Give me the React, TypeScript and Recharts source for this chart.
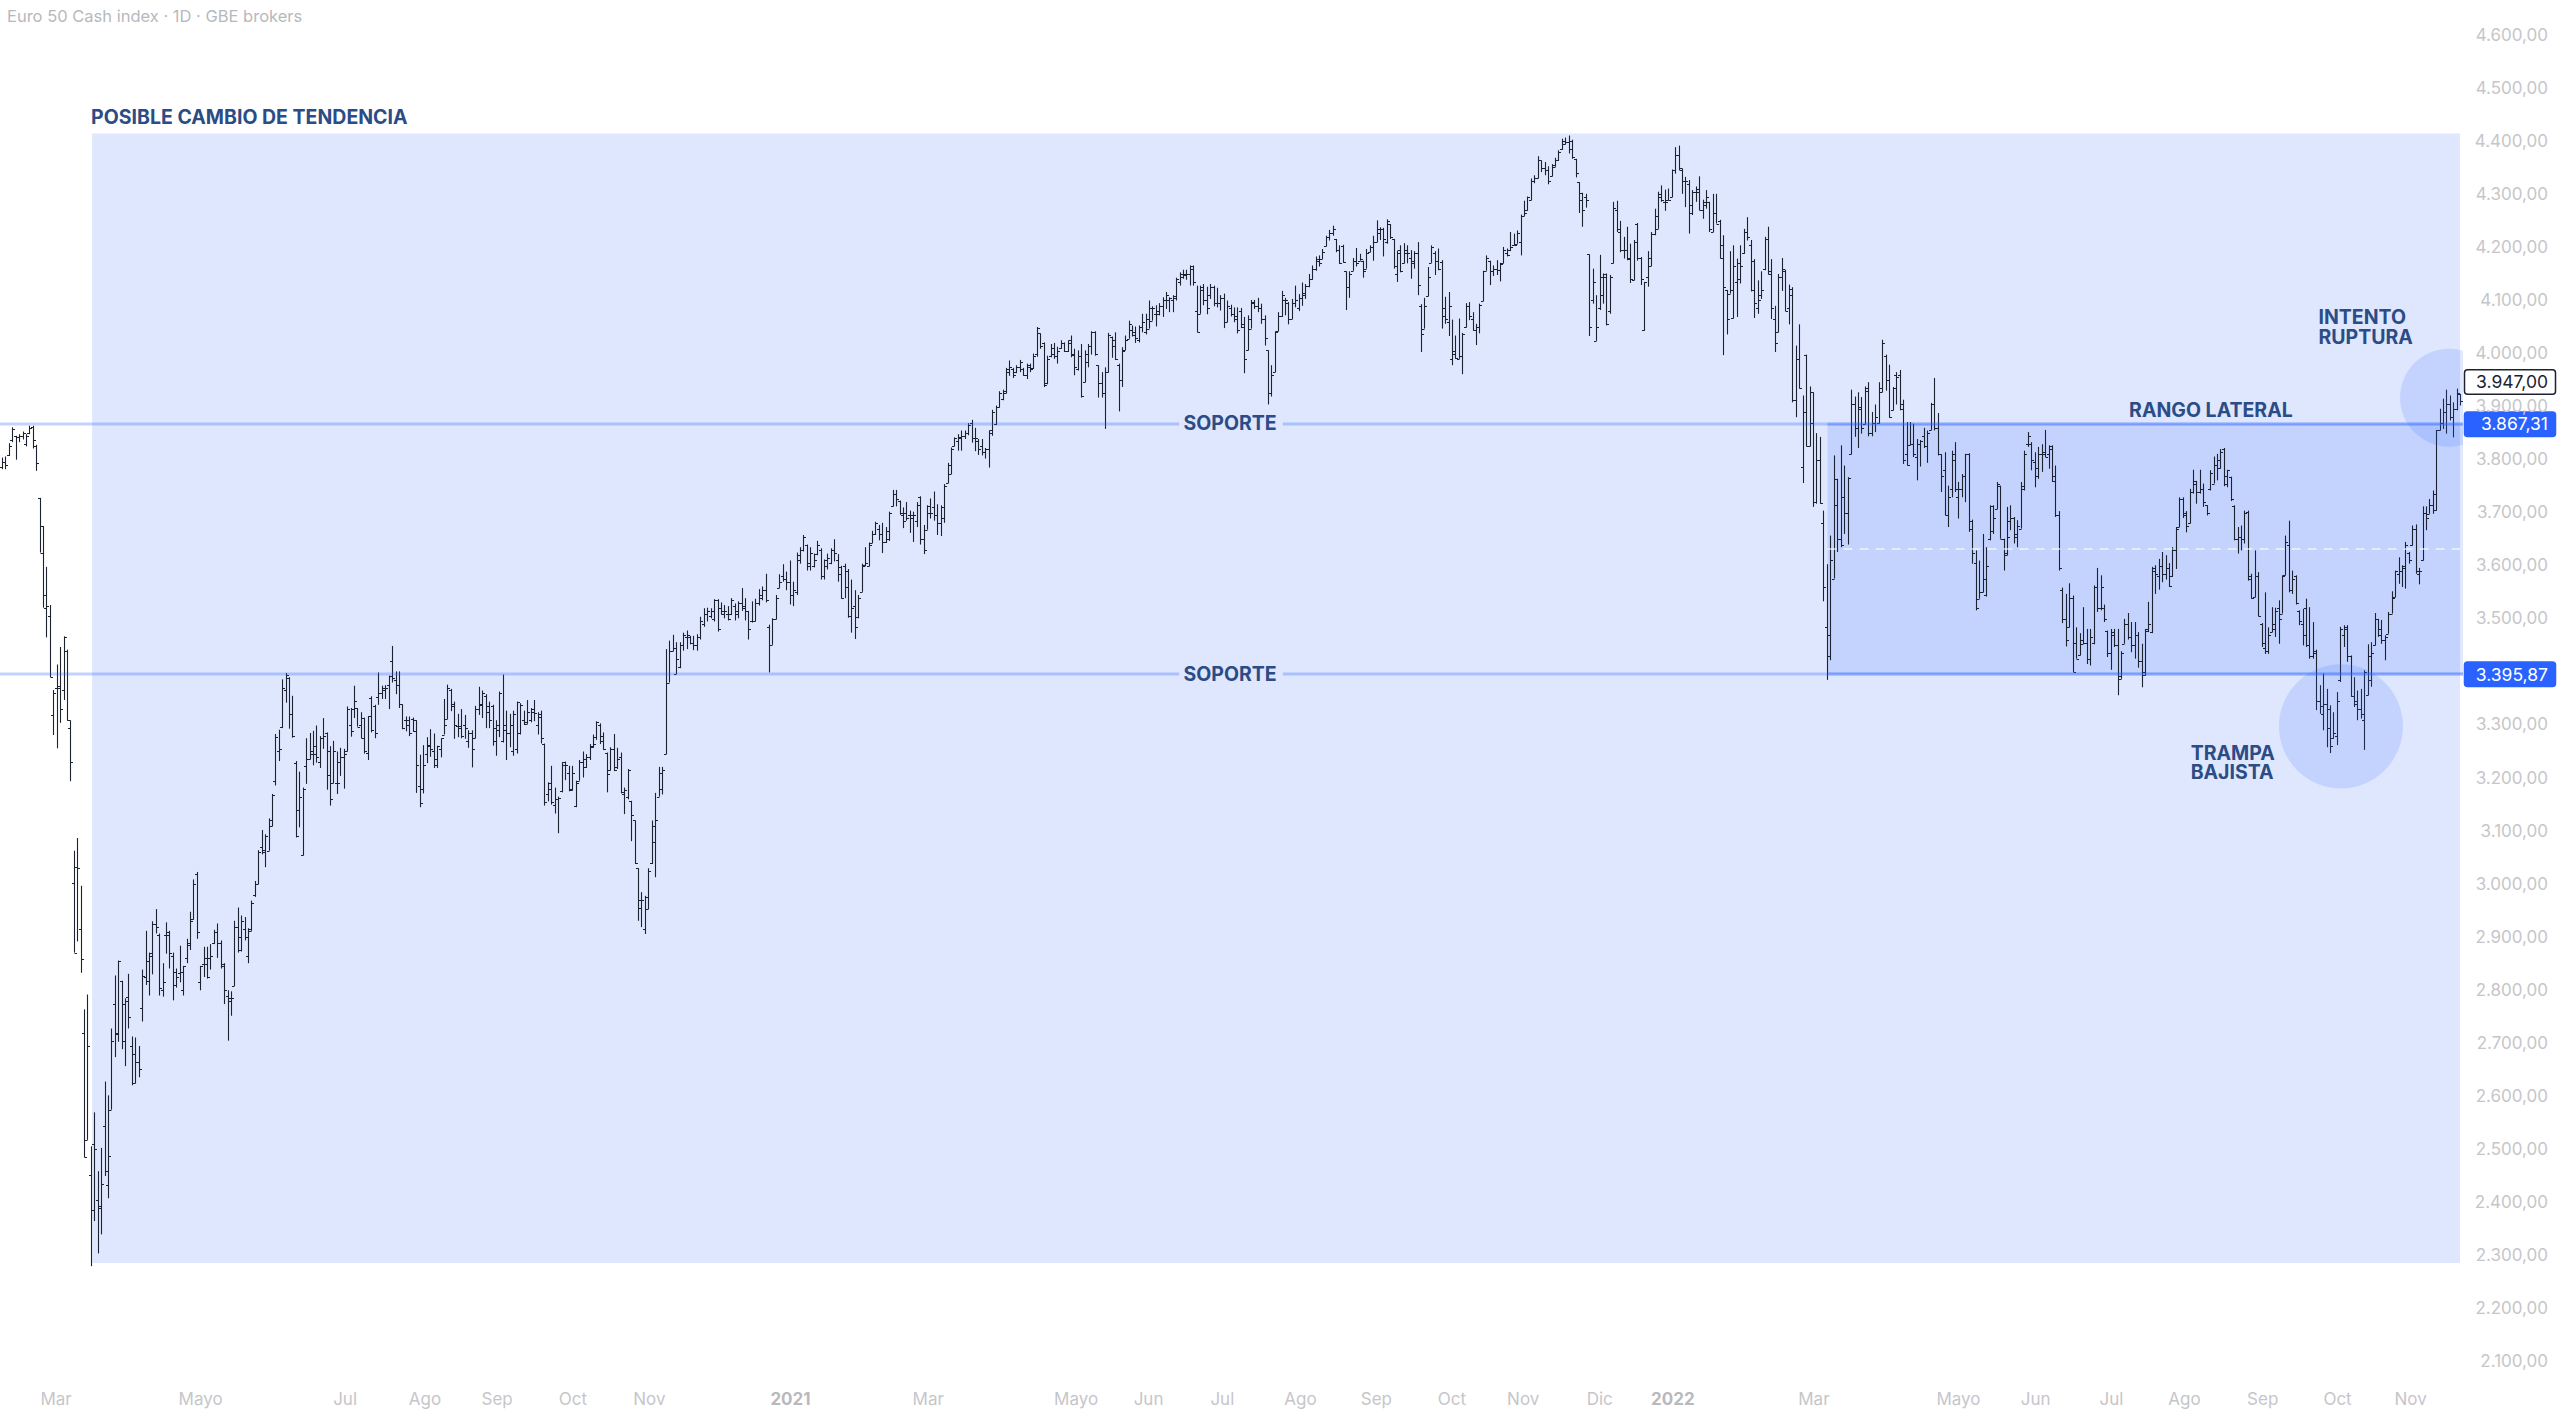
import React from "react";
import {
  ComposedChart,
  Bar,
  XAxis,
  YAxis,
  ReferenceArea,
  ReferenceLine,
  ReferenceDot,
} from "recharts";

// daily bars, rows are [open, high, low, close]
const crash2020 = [
  [3786,3804,3782,3795],[3795,3806,3782,3790],[3808,3831,3807,3825],[3838,3861,3833,3858],[3845,3845,3800,3842],
  [3842,3848,3833,3844],[3844,3853,3838,3851],[3830,3848,3825,3845],[3850,3864,3848,3860],[3862,3864,3821,3838],
  [3825,3828,3779,3793],[3728,3728,3625,3625],[3675,3675,3521,3545],[3521,3598,3465,3525],[3505,3526,3390,3390],
  [3318,3366,3281,3360],[3370,3414,3256,3370],[3373,3447,3304,3330],[3365,3467,3347,3465],[3440,3442,3308,3310],
  [3295,3309,3194,3230],[3002,3063,2871,2871],[3032,3087,2892,3030],[2915,2997,2833,2858],[2720,2764,2485,2485],
  [2518,2792,2518,2695],[2451,2506,2280,2386],[2510,2570,2365,2500],[2405,2459,2304,2390],[2394,2503,2340,2435],
  [2545,2628,2450,2460],[2433,2602,2408,2488],[2575,2728,2575,2705],[2775,2828,2674,2720],[2718,2856,2703,2855],
  [2818,2818,2689,2705],[2775,2785,2657,2780],[2788,2831,2728,2750],[2695,2713,2621,2625],[2680,2711,2624,2665],
  [2665,2695,2636,2652],[2767,2839,2741,2826],[2825,2912,2810,2818],[2855,2871,2790,2865],[2870,2930,2830,2925],
  [2925,2953,2907,2920],[2905,2907,2790,2805],[2800,2851,2788,2815],[2905,2928,2869,2905],[2910,2912,2841,2870],
  [2865,2871,2781,2810],[2835,2841,2805,2825],[2832,2884,2815,2835],[2800,2846,2790,2845],[2860,2897,2851,2890],
  [2885,2948,2876,2930],[2935,3009,2933,3000],[3020,3023,2897,2910],[2815,2846,2800,2845],[2850,2882,2825,2850],
  [2860,2882,2822,2825],[2860,2887,2839,2865],[2890,2914,2887,2910],[2910,2926,2861,2890],[2890,2894,2841,2845],
  [2850,2851,2774,2800],[2790,2800,2705,2785],[2780,2798,2752,2785],[2808,2931,2808,2920],[2920,2956,2871,2875],
  [2900,2941,2873,2930],[2915,2938,2894,2900],[2865,2917,2851,2915],[2912,2969,2912,2965],[2980,3006,2976,3000],
  [3000,3064,3000,3060],[3070,3102,3056,3060],[3065,3094,3032,3090],[3063,3124,3063,3120],[3110,3170,3109,3168],
  [3195,3283,3186,3278],[3250,3291,3232,3255],[3296,3386,3294,3370],[3365,3398,3342,3395],[3388,3390,3293,3320],
  [3320,3355,3276,3280],[3228,3232,3088,3090],[3140,3212,3107,3165],[3055,3182,3054,3180],[3222,3275,3189,3235],
  [3235,3285,3235,3245],[3250,3289,3224,3245],[3260,3299,3229,3240],[3230,3279,3219,3275],[3275,3313,3255,3280],
  [3285,3286,3178,3205],[3250,3260,3148,3160],[3190,3270,3190,3250],[3190,3250,3170,3190],[3230,3257,3204,3240],
  [3240,3255,3180,3245],[3250,3335,3250,3330],
];

const range2020 = [
  [3300,3332,3278,3288],[3330,3374,3313,3345],[3332,3332,3297,3297],[3300,3324,3275,3275],[3314,3314,3246,3250],
  [3248,3317,3234,3317],[3350,3354,3286,3290],[3335,3338,3275,3285],[3352,3399,3338,3360],[3360,3374,3349,3365],
  [3370,3375,3349,3370],[3375,3393,3330,3392],[3420,3449,3380,3388],[3385,3401,3358,3375],[3375,3401,3332,3340],
  [3339,3339,3292,3295],[3310,3316,3288,3310],[3300,3316,3279,3285],[3312,3314,3287,3288],[3309,3309,3172,3225],
  [3185,3244,3145,3152],[3180,3262,3171,3225],[3245,3277,3228,3262],[3260,3292,3240,3255],[3250,3284,3219,3225],
  [3235,3261,3219,3260],[3255,3275,3239,3275],[3282,3349,3282,3300],[3311,3376,3311,3370],[3365,3368,3326,3335],
  [3340,3344,3274,3300],[3298,3321,3277,3295],[3298,3330,3275,3280],[3300,3319,3274,3295],[3270,3290,3257,3285],
  [3285,3290,3220,3255],[3275,3336,3275,3330],[3330,3372,3319,3338],[3340,3365,3313,3360],[3355,3358,3294,3325],
  [3335,3344,3294,3310],[3335,3338,3261,3270],[3295,3309,3242,3290],[3300,3363,3277,3360],[3270,3395,3267,3300],
  [3290,3327,3234,3285],[3285,3321,3258,3300],[3250,3327,3242,3320],[3255,3344,3246,3344],[3285,3341,3282,3338],
  [3310,3327,3300,3305],[3302,3347,3302,3325],[3310,3332,3305,3330],[3325,3347,3307,3322],[3300,3324,3282,3315],
  [3320,3327,3265,3275],[3265,3265,3148,3155],[3170,3192,3156,3180],[3190,3223,3150,3155],[3150,3182,3133,3160],
  [3160,3165,3096,3163],[3175,3230,3173,3225],[3230,3231,3196,3225],[3210,3223,3175,3178],[3180,3223,3176,3210],
  [3148,3195,3145,3190],[3195,3234,3195,3230],[3230,3250,3201,3235],[3220,3245,3219,3240],[3240,3264,3234,3260],
  [3258,3282,3257,3265],[3278,3307,3272,3305],[3300,3303,3264,3270],[3280,3286,3253,3255],[3248,3248,3173,3208],
  [3215,3258,3214,3255],[3255,3283,3213,3215],[3220,3257,3217,3235],[3240,3248,3171,3173],[3170,3182,3132,3178],
  [3165,3217,3160,3215],[3157,3157,3081,3130],[3120,3120,3038,3040],[3030,3030,2931,2955],[2970,2985,2919,2970],
  [2915,2978,2906,2975],[2953,3030,2953,3025],[3040,3120,3038,3110],[3080,3172,3013,3120],[3165,3221,3165,3210],
  [3180,3221,3169,3215],[3245,3443,3245,3380],[3380,3459,3380,3440],[3440,3470,3439,3445],[3396,3456,3396,3425],
  [3410,3456,3407,3450],[3450,3474,3440,3470],[3465,3478,3443,3470],[3465,3468,3452,3455],[3455,3468,3441,3450],
  [3450,3471,3440,3465],
];

const rally2021a = [
  [3465,3504,3461,3495],[3490,3520,3485,3510],[3510,3521,3495,3515],[3505,3520,3501,3515],[3500,3537,3495,3535],
  [3535,3537,3476,3480],[3520,3531,3508,3510],[3515,3526,3501,3515],[3510,3524,3497,3500],[3510,3539,3507,3535],
  [3525,3529,3497,3515],[3510,3533,3501,3530],[3530,3558,3515,3520],[3525,3539,3497,3515],[3515,3515,3461,3480],
  [3495,3533,3493,3495],[3495,3538,3495,3530],[3530,3556,3525,3545],[3540,3561,3535,3555],[3555,3585,3531,3535],
  [3485,3489,3399,3450],[3451,3501,3451,3500],[3500,3545,3499,3540],[3558,3584,3558,3570],[3580,3603,3570,3575],
  [3575,3589,3554,3570],[3570,3610,3527,3545],[3545,3570,3524,3555],[3550,3625,3545,3620],[3610,3635,3604,3630],
  [3630,3658,3627,3655],[3640,3640,3591,3605],[3600,3635,3591,3625],[3600,3623,3597,3610],[3622,3647,3620,3640],
  [3630,3633,3574,3580],[3580,3612,3574,3610],[3600,3623,3593,3615],[3605,3633,3603,3630],[3630,3650,3608,3625],
  [3610,3622,3570,3585],[3598,3600,3538,3540],[3600,3604,3539,3560],[3590,3594,3502,3505],[3505,3574,3474,3520],
  [3525,3554,3462,3485],[3503,3545,3501,3540],[3551,3604,3551,3600],[3602,3635,3599,3605],[3600,3644,3599,3640],
  [3643,3666,3643,3660],[3660,3683,3658,3680],[3670,3677,3648,3660],[3660,3681,3624,3645],[3645,3673,3643,3665],
  [3650,3702,3647,3700],[3712,3743,3712,3735],[3735,3743,3712,3725],[3723,3723,3696,3700],[3695,3710,3671,3685],
  [3700,3720,3685,3690],[3695,3704,3662,3695],[3690,3702,3645,3695],[3685,3720,3673,3715],[3730,3731,3640,3650],
  [3650,3677,3622,3630],[3668,3714,3668,3712],[3700,3727,3689,3700],[3710,3740,3685,3695],[3695,3716,3658,3680],
  [3680,3714,3656,3710],[3690,3754,3681,3750],[3756,3794,3756,3790],[3773,3823,3773,3820],[3825,3842,3825,3840],
  [3835,3848,3817,3842],[3840,3855,3817,3845],[3845,3855,3839,3850],[3850,3869,3846,3865],[3870,3875,3832,3840],
  [3840,3860,3816,3840],[3835,3839,3809,3820],[3825,3839,3808,3815],[3815,3822,3802,3820],[3820,3855,3785,3855],
  [3850,3894,3845,3890],[3868,3902,3865,3900],[3900,3929,3898,3925],[3915,3932,3912,3930],[3925,3973,3925,3970],
  [3965,3987,3958,3975],[3970,3973,3954,3960],[3965,3978,3963,3975],[3975,3988,3965,3985],[3970,3973,3958,3960],
  [3960,3981,3952,3978],[3975,3981,3965,3970],[3972,4000,3971,3995],[4000,4050,3994,4048],[4038,4038,4009,4015],
  [4020,4021,3937,3940],[3945,3996,3942,3990],
];

const rally2021b = [
  [3995,4018,3993,4010],[4000,4020,3990,3995],[3995,4013,3981,4005],[4010,4025,4009,4020],[4020,4021,4003,4005],
  [4005,4025,4003,4020],[4025,4034,3993,4000],[3997,4009,3959,3975],[3970,4006,3968,3995],[3995,4018,3917,3920],
  [3946,4006,3946,4000],[3985,4018,3974,4015],[4015,4042,3998,4040],[4040,4042,3996,4000],[3978,3978,3917,3945],
  [3945,3965,3917,3925],[3925,3974,3858,3965],[3965,4039,3964,4035],[4032,4032,3992,4025],[4015,4040,3988,3990],
  [3978,3981,3891,3950],[3950,4012,3937,4005],[4006,4034,4006,4025],[4028,4062,4028,4055],[4045,4053,4032,4035],
  [4040,4051,4020,4030],[4025,4053,4021,4050],[4050,4075,4040,4060],[4040,4075,4036,4065],[4047,4100,4047,4085],
  [4062,4089,4062,4085],[4075,4091,4051,4080],[4075,4095,4072,4090],[4090,4106,4069,4100],[4100,4116,4084,4110],
  [4100,4106,4078,4105],[4100,4110,4078,4108],[4105,4143,4100,4140],[4135,4153,4128,4150],[4145,4158,4141,4150],
  [4148,4158,4139,4150],[4150,4166,4128,4160],[4165,4166,4128,4135],[4080,4128,4040,4040],[4075,4128,4075,4120],
  [4125,4131,4091,4100],[4100,4126,4074,4085],[4110,4131,4103,4125],[4125,4128,4089,4095],[4095,4124,4087,4095],
  [4095,4110,4081,4105],[4105,4113,4048,4060],[4060,4100,4059,4090],[4085,4092,4070,4075],[4075,4087,4059,4065],
  [4070,4087,4038,4045],[4080,4086,4048,4050],[4055,4069,3963,3990],[4006,4072,4006,4065],[4047,4101,4047,4098],
  [4095,4101,4084,4090],[4090,4105,4078,4085],[4085,4094,4056,4065],[4065,4072,4015,4030],[4006,4006,3904,3925],
  [3925,3978,3919,3960],[3965,4042,3965,4040],[4042,4078,4042,4070],[4070,4118,4069,4110],[4100,4105,4072,4100],
  [4095,4097,4055,4065],[4065,4103,4065,4095],[4095,4128,4087,4100],[4085,4112,4080,4105],[4105,4134,4090,4115],
  [4110,4131,4103,4128],[4128,4150,4125,4140],[4140,4166,4139,4160],[4160,4183,4156,4178],[4175,4185,4164,4170],
  [4178,4197,4178,4192],[4202,4222,4202,4220],[4220,4233,4213,4228],[4228,4241,4222,4235],[4215,4216,4191,4195],
  [4195,4204,4169,4170],[4203,4205,4171,4172],[4155,4155,4082,4125],[4125,4155,4105,4150],[4156,4180,4156,4175],
  [4175,4199,4164,4170],[4175,4188,4175,4178],[4175,4175,4143,4155],[4160,4197,4160,4190],[4191,4204,4191,4200],
  [4200,4222,4175,4210],[4210,4251,4210,4235],[4228,4238,4214,4235],[4235,4237,4183,4215],[4210,4253,4207,4250],
  [4244,4244,4216,4220],[4216,4216,4160,4165],[4150,4194,4135,4190],
];

const peak2021 = [
  [4195,4204,4153,4155],[4170,4208,4170,4195],[4190,4204,4170,4190],[4180,4195,4141,4175],[4170,4193,4160,4190],
  [4190,4210,4110,4129],[4090,4093,4003,4036],[4047,4105,4047,4090],[4108,4163,4108,4145],[4171,4204,4171,4200],
  [4190,4193,4148,4175],[4175,4198,4157,4160],[4172,4176,4047,4085],[4070,4107,4056,4065],[4060,4116,4033,4090],
  [3990,4064,3978,4000],[4005,4034,3990,3992],[3990,4066,3990,3995],[3995,4039,3961,4037],[4050,4095,4049,4090],
  [4090,4097,4063,4070],[4065,4078,4043,4045],[4045,4056,4016,4050],[4050,4094,4038,4092],[4099,4156,4099,4155],
  [4156,4185,4156,4180],[4175,4175,4129,4155],[4155,4166,4146,4160],[4160,4176,4148,4158],[4158,4171,4136,4168],
  [4170,4201,4170,4195],[4190,4198,4183,4185],[4195,4229,4193,4200],[4205,4226,4204,4205],[4207,4232,4207,4228],
  [4210,4262,4185,4260],[4259,4288,4259,4265],[4270,4296,4269,4295],[4290,4330,4289,4325],[4325,4336,4321,4330],
  [4330,4372,4330,4365],[4364,4364,4342,4350],[4350,4361,4336,4345],[4345,4353,4319,4325],[4334,4357,4334,4355],
  [4352,4369,4352,4365],[4365,4383,4363,4380],[4385,4405,4384,4400],[4395,4407,4394,4398],[4398,4411,4377,4385],
  [4400,4403,4367,4370],[4367,4367,4332,4340],[4323,4323,4265,4290],[4303,4303,4239,4270],[4295,4301,4275,4290],
  [4187,4187,4033,4050],[4100,4160,4094,4135],[4024,4110,4024,4050],[4085,4186,4082,4110],[4145,4151,4094,4150],
  [4145,4151,4053,4055],[4080,4148,4075,4145],[4170,4286,4170,4275],[4270,4288,4229,4235],[4230,4250,4191,4195],
  [4195,4220,4179,4195],[4195,4239,4176,4180],[4178,4207,4133,4140],[4138,4214,4138,4210],[4245,4246,4175,4180],
  [4180,4182,4129,4140],[4045,4135,4043,4135],[4145,4193,4126,4180],[4165,4229,4165,4225],[4225,4273,4223,4260],
  [4235,4305,4235,4300],[4295,4317,4286,4290],[4285,4309,4269,4285],[4290,4311,4289,4290],[4295,4347,4295,4345],
  [4345,4389,4339,4375],[4375,4392,4345,4350],[4345,4349,4301,4325],[4325,4333,4276,4325],[4320,4327,4226,4280],
  [4265,4308,4261,4305],[4305,4315,4286,4310],[4305,4334,4270,4270],[4270,4290,4254,4285],[4280,4308,4273,4295],
  [4285,4286,4229,4235],[4230,4301,4229,4265],[4265,4301,4245,4245],[4250,4252,4179,4180],[4205,4223,3997,4126],
  [4120,4120,4036,4065],[4113,4193,4113,4120],[4067,4204,4066,4165],[4135,4179,4069,4140],[4170,4204,4132,4165],
  [4190,4235,4188,4230],[4230,4257,4213,4220],
];

const drop2022 = [
  [4205,4214,4117,4120],[4175,4178,4067,4095],[4085,4138,4075,4100],[4110,4155,4103,4120],[4160,4220,4157,4215],
  [4215,4239,4149,4150],[4155,4178,4065,4085],[4065,4090,4003,4020],[4040,4150,4040,4145],[4145,4180,4118,4160],
  [4155,4158,4080,4080],[4085,4130,4055,4110],[4122,4125,3908,3912],[3912,4015,3880,3990],[3990,4055,3934,3935],
  [3786,3921,3756,3890],[3998,3998,3825,3825],[3825,3938,3825,3870],[3927,3927,3711,3720],[3720,3850,3717,3800],
  [3800,3843,3717,3718],[3680,3704,3533,3560],[3485,3603,3385,3470],[3430,3657,3422,3610],[3576,3808,3576,3715],
  [3764,3764,3626,3650],[3650,3827,3635,3640],[3730,3789,3660,3700],[3700,3767,3640,3765],[3810,3932,3810,3905],
  [3905,3919,3843,3860],[3860,3927,3822,3900],[3895,3918,3849,3860],[3867,3938,3867,3930],[3935,3946,3844,3850],
  [3850,3890,3844,3870],[3870,3904,3852,3880],[3870,3946,3868,3935],[3927,4026,3927,4020],[3995,3998,3930,3950],
  [3950,3979,3879,3880],[3893,3937,3893,3935],[3960,3965,3904,3955],[3960,3969,3893,3895],[3905,3913,3792,3800],
  [3810,3871,3789,3790],[3827,3871,3827,3830],[3830,3868,3805,3810],[3805,3839,3761,3830],[3830,3837,3787,3835],
  [3845,3860,3822,3825],[3825,3855,3794,3850],[3856,3907,3856,3905],[3905,3954,3855,3860],[3860,3888,3808,3810],
  [3810,3810,3739,3770],[3780,3814,3695,3695],[3695,3751,3673,3730],[3745,3817,3729,3800],[3810,3833,3739,3745],
  [3730,3758,3689,3745],[3745,3773,3729,3770],[3770,3811,3720,3810],[3810,3812,3664,3670],[3685,3687,3604,3625],
  [3605,3629,3516,3520],[3538,3610,3538,3550],[3550,3660,3550,3575],[3545,3635,3542,3600],[3650,3714,3648,3712],
  [3665,3714,3660,3690],[3707,3758,3707,3755],[3750,3751,3651,3651],[3650,3651,3591,3625],[3620,3711,3620,3655],
  [3685,3714,3667,3690],[3690,3692,3642,3655],[3660,3686,3635,3675],[3670,3758,3670,3750],[3745,3817,3742,3810],
  [3830,3852,3824,3845],[3830,3833,3780,3800],[3795,3814,3748,3785],[3770,3824,3764,3810],[3810,3829,3777,3815],
  [3810,3856,3805,3805],[3810,3827,3783,3820],[3825,3827,3758,3770],[3760,3789,3692,3695],[3695,3703,3591,3595],
  [3555,3559,3492,3500],[3500,3547,3448,3460],[3484,3567,3484,3540],[3540,3544,3400,3400],[3455,3484,3425,3425],
  [3431,3473,3431,3460],[3453,3522,3453,3455],[3455,3481,3415,3425],[3425,3481,3412,3465],[3455,3563,3452,3560],
  [3560,3596,3513,3520],
];

const range2022 = [
  [3520,3582,3516,3560],[3520,3527,3494,3500],[3478,3478,3428,3435],[3435,3481,3404,3470],[3475,3481,3447,3450],
  [3450,3481,3356,3392],[3387,3439,3387,3435],[3453,3500,3453,3490],[3490,3511,3461,3465],[3465,3494,3437,3450],
  [3450,3494,3425,3470],[3470,3475,3408,3420],[3420,3453,3371,3400],[3395,3481,3393,3478],[3480,3532,3475,3490],
  [3475,3598,3473,3595],[3590,3601,3547,3585],[3580,3613,3555,3600],[3600,3626,3569,3585],[3585,3620,3574,3595],
  [3595,3605,3560,3562],[3580,3635,3579,3630],[3630,3673,3594,3670],[3673,3729,3673,3725],[3725,3729,3690,3700],
  [3695,3703,3663,3675],[3680,3745,3680,3740],[3740,3781,3736,3760],[3755,3760,3717,3740],[3740,3781,3736,3745],
  [3745,3755,3711,3720],[3714,3714,3695,3700],[3745,3780,3742,3775],[3755,3806,3755,3790],[3790,3811,3761,3800],
  [3785,3820,3783,3815],[3820,3822,3750,3755],[3770,3781,3748,3780],[3768,3768,3722,3725],[3712,3714,3648,3650],
  [3650,3673,3623,3655],[3655,3676,3629,3650],[3650,3704,3642,3700],[3702,3704,3572,3575],[3580,3585,3538,3540],
  [3541,3629,3541,3580],[3580,3588,3505,3505],[3490,3492,3447,3455],[3445,3550,3434,3440],[3440,3484,3434,3470],
  [3475,3522,3475,3490],[3480,3521,3466,3515],[3520,3535,3453,3500],[3510,3582,3510,3580],[3582,3657,3582,3645],
  [3640,3685,3550,3555],[3555,3591,3547,3575],[3580,3582,3527,3530],[3515,3516,3488,3495],[3490,3519,3450,3470],
  [3520,3538,3447,3450],[3450,3522,3425,3430],[3430,3494,3425,3440],[3435,3442,3328,3345],[3345,3375,3321,3335],
  [3320,3397,3290,3340],[3340,3368,3258,3330],[3295,3337,3247,3260],[3275,3324,3274,3285],[3280,3362,3262,3345],
  [3385,3485,3381,3480],[3470,3488,3447,3480],[3485,3488,3419,3430],[3430,3431,3353,3355],[3355,3390,3334,3345],
  [3340,3365,3309,3330],[3330,3368,3312,3320],[3310,3403,3253,3400],[3356,3452,3356,3430],[3385,3456,3372,3435],
  [3450,3511,3450,3500],[3500,3500,3466,3480],[3470,3498,3453,3460],[3460,3469,3422,3465],[3472,3513,3472,3510],
  [3510,3552,3510,3540],[3541,3591,3541,3590],[3585,3616,3566,3590],[3590,3601,3560,3600],[3595,3645,3557,3640],
  [3625,3626,3604,3610],[3640,3676,3638,3670],[3670,3678,3585,3590],[3585,3596,3565,3590],[3610,3712,3610,3700],
  [3700,3712,3667,3690],[3698,3726,3698,3715],[3715,3742,3698,3735],[3705,3856,3704,3855],[3855,3896,3855,3870],
  [3870,3915,3858,3890],[3890,3932,3849,3905],[3905,3921,3874,3880],[3880,3908,3842,3895],[3895,3934,3893,3925],
  [3924,3924,3902,3910],[3910,3947,3899,3947],
];

const strips = [crash2020, range2020, rally2021a, rally2021b, peak2021, drop2022, range2022];
const stripStarts = [0, 102.5, 205.4, 308.4, 411.3, 514.3, 617.2, 725];

const monthLabels = ["Mar", "Mayo", "Jul", "Ago", "Sep", "Oct", "Nov", "2021", "Mar", "Mayo", "Jun", "Jul", "Ago", "Sep", "Oct", "Nov", "Dic", "2022", "Mar", "Mayo", "Jun", "Jul", "Ago", "Sep", "Oct", "Nov"];
const monthBars = [16, 58.5, 101, 124.5, 145.7, 168, 190.5, 232, 272.5, 316, 337.3, 359, 382, 404.3, 426.5, 447.5, 470, 491.5, 533, 575.5, 598.2, 620.5, 642, 665, 687, 708.5];
const yearLabels = ["2021", "2022"];

// 3.400,00 sits under the blue tag in the reference, so it never shows
const priceTicks = [2100, 2200, 2300, 2400, 2500, 2600, 2700, 2800, 2900, 3000, 3100, 3200, 3300, 3500, 3600, 3700, 3800, 3900, 4000, 4100, 4200, 4300, 4400, 4500, 4600];

const upperLevel = 3867.31;
const lowerLevel = 3395.87;
const lastPrice = 3947;

const barDomain: [number, number] = [-0.5, 723.9];
const priceDomain: [number, number] = [2065.5, 4666.3];

const NAVY = "#2b4c84";
const LEVEL_BLUE = "rgba(41,98,255,0.28)";
const FILL_BLUE = "rgba(41,98,255,0.15)";
const PANEL_FILL = "#dee7fe";

const table = strips.flatMap((rows, k) =>
  rows.map((r, j) => ({
    bar: stripStarts[k] + (j * (stripStarts[k + 1] - stripStarts[k])) / rows.length,
    open: r[0],
    high: r[1],
    low: r[2],
    close: r[3],
    range: [r[2], r[1]],
  }))
);

const fmtPrice = (v: number, decimals = "00") => {
  const s = String(Math.floor(v));
  return `${s.slice(0, 1)}.${s.slice(1)},${decimals}`;
};

// vertical high-low line with the open tick on the left and the close on the right
const OhlcBar = (props: any) => {
  const { x, y, width, height, payload } = props;
  const top = Math.min(y, y + height);
  const h = Math.abs(height);
  const cx = Math.round(x + width / 2) + 0.5;
  const span = payload.high - payload.low || 1;
  const openY = Math.round(top + ((payload.high - payload.open) / span) * h) + 0.5;
  const closeY = Math.round(top + ((payload.high - payload.close) / span) * h) + 0.5;
  return (
    <g stroke="#1d2230" fill="none">
      <line x1={cx} x2={cx} y1={top} y2={top + h} strokeWidth={1.1} />
      <line x1={cx - 2.5} x2={cx} y1={openY} y2={openY} strokeWidth={1} />
      <line x1={cx} x2={cx + 2.5} y1={closeY} y2={closeY} strokeWidth={1} />
    </g>
  );
};

const PriceTick = (props: any) => (
  <text x={2548} y={props.y + 5.5} textAnchor="end" fontFamily="Inter" fontSize={17} fill="#c6c6ca">
    {fmtPrice(props.payload.value)}
  </text>
);

const MonthTick = (props: any) => {
  const label = monthLabels[monthBars.indexOf(props.payload.value)];
  const isYear = yearLabels.includes(label);
  return (
    <text x={props.x} y={1404.5} textAnchor="middle" fontFamily="Inter" fontSize={17} fontWeight={isYear ? 700 : 400} fill={isYear ? "#b9b9bd" : "#c6c6ca"}>
      {label}
    </text>
  );
};

const noteShape = (text: string, anchor: string) => (props: any) => (
  <text x={props.cx} y={props.cy + 6.5} textAnchor={anchor} fontFamily="Inter" fontSize={19.5} fontWeight={700} fill={NAVY}>
    {text}
  </text>
);

const tagShape = (text: string, bg: string, border: string, color: string) => (props: any) => (
  <g>
    <rect x={props.cx + 1.5} y={props.cy - 12} width={91} height={24.5} rx={3} fill={bg} stroke={border} strokeWidth={1.5} />
    <text x={props.cx + 85} y={props.cy + 6.5} textAnchor="end" fontFamily="Inter" fontSize={17.5} fill={color}>
      {text}
    </text>
  </g>
);

const levels = [upperLevel, lowerLevel];

export default function App() {
  return (
    <div style={{ position: "absolute", left: 0, top: 0, width: 2560, height: 1412, background: "#fff", overflow: "hidden" }}>
      <div style={{ position: "absolute", left: 7, top: 6, fontFamily: "Inter", fontSize: 16.5, color: "#b8b8bc", whiteSpace: "nowrap" }}>
        Euro 50 Cash index · 1D · GBE brokers
      </div>
      <ComposedChart width={2560} height={1412} data={table} margin={{ top: 0, right: 0, bottom: 0, left: 0 }}>
        <XAxis
          dataKey="bar"
          type="number"
          domain={barDomain}
          allowDataOverflow
          ticks={monthBars}
          interval={0}
          height={32}
          axisLine={false}
          tickLine={false}
          tick={<MonthTick />}
        />
        <YAxis
          orientation="right"
          domain={priceDomain}
          allowDataOverflow
          ticks={priceTicks}
          interval={0}
          width={97}
          axisLine={false}
          tickLine={false}
          tick={<PriceTick />}
        />
        <ReferenceArea x1={26.6} x2={723} y1={2286} y2={4414.5} fill={PANEL_FILL} stroke="none" fillOpacity={1} ifOverflow="visible" />
        <ReferenceArea x1={537} x2={723.9} y1={lowerLevel} y2={upperLevel} fill={FILL_BLUE} stroke="none" fillOpacity={1} ifOverflow="visible" />
        <ReferenceDot x={688} y={3297.4} r={62} fill={FILL_BLUE} stroke="none" ifOverflow="hidden" />
        <ReferenceDot x={719.8} y={3916.8} r={49} fill={FILL_BLUE} stroke="none" ifOverflow="hidden" />
        {levels.map((level) => (
          <ReferenceLine key={`a${level}`} segment={[{ x: -0.5, y: level }, { x: 346.3, y: level }]} stroke={LEVEL_BLUE} strokeWidth={3} ifOverflow="visible" />
        ))}
        {levels.map((level) => (
          <ReferenceLine key={`b${level}`} segment={[{ x: 376.8, y: level }, { x: 723.9, y: level }]} stroke={LEVEL_BLUE} strokeWidth={3} ifOverflow="visible" />
        ))}
        {levels.map((level) => (
          <ReferenceLine key={`c${level}`} segment={[{ x: 537, y: level }, { x: 723.9, y: level }]} stroke={LEVEL_BLUE} strokeWidth={3} ifOverflow="visible" />
        ))}
        <ReferenceLine segment={[{ x: 537, y: 3631.6 }, { x: 723, y: 3631.6 }]} stroke="rgba(255,255,255,0.75)" strokeWidth={1.5} strokeDasharray="9 7" ifOverflow="visible" />
        <Bar dataKey="range" barSize={2} shape={<OhlcBar />} isAnimationActive={false} />
        <ReferenceDot x={26.3} y={4444.4} r={0} shape={noteShape("POSIBLE CAMBIO DE TENDENCIA", "start")} ifOverflow="visible" />
        <ReferenceDot x={361.3} y={upperLevel} r={0} shape={noteShape("SOPORTE", "middle")} ifOverflow="visible" />
        <ReferenceDot x={361.3} y={lowerLevel} r={0} shape={noteShape("SOPORTE", "middle")} ifOverflow="visible" />
        <ReferenceDot x={625.7} y={3893} r={0} shape={noteShape("RANGO LATERAL", "start")} ifOverflow="visible" />
        <ReferenceDot x={681.4} y={4067.5} r={0} shape={noteShape("INTENTO", "start")} ifOverflow="visible" />
        <ReferenceDot x={681.4} y={4031} r={0} shape={noteShape("RUPTURA", "start")} ifOverflow="visible" />
        <ReferenceDot x={643.8} y={3245.8} r={0} shape={noteShape("TRAMPA", "start")} ifOverflow="visible" />
        <ReferenceDot x={643.8} y={3210} r={0} shape={noteShape("BAJISTA", "start")} ifOverflow="visible" />
        <ReferenceDot x={723.9} y={lastPrice} r={0} shape={tagShape(fmtPrice(lastPrice), "#ffffff", "#1d2230", "#1d2230")} ifOverflow="visible" />
        <ReferenceDot x={723.9} y={upperLevel} r={0} shape={tagShape(fmtPrice(upperLevel, "31"), "#2962ff", "#2962ff", "#ffffff")} ifOverflow="visible" />
        <ReferenceDot x={723.9} y={lowerLevel} r={0} shape={tagShape(fmtPrice(lowerLevel, "87"), "#2962ff", "#2962ff", "#ffffff")} ifOverflow="visible" />
      </ComposedChart>
    </div>
  );
}
